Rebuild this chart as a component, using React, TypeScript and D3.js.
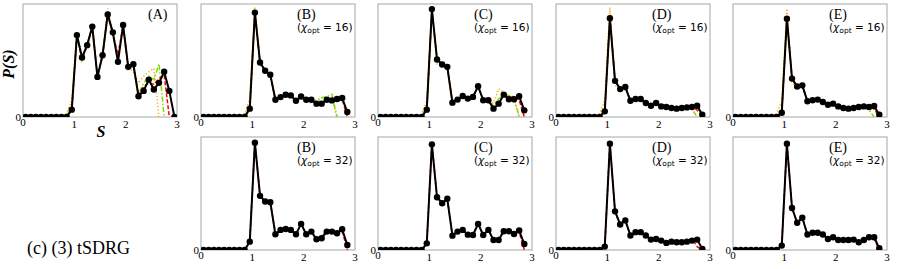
import * as d3 from 'd3';

// bin centres of the level-spacing histogram
const sBins = [0.05, 0.15, 0.25, 0.35, 0.45, 0.55, 0.65, 0.75, 0.85, 0.95, 1.05, 1.15, 1.25, 1.35, 1.45,
  1.55, 1.65, 1.75, 1.85, 1.95, 2.05, 2.15, 2.25, 2.35, 2.45, 2.55, 2.65, 2.75, 2.85, 2.95];
const xTicks = [0, 1, 2, 3];

// panel (A), exact
const aBlack = [0, 0, 0, 0, 0, 0, 0, 0, 0, 0.065, 0.725, 0.527, 0.636, 0.80, 0.355, 0.547, 0.908, 0.749, 0.488, 0.814, 0.444, 0.467, 0.183, 0.231, 0.331, 0.243, 0.302, 0.40, 0.231, 0];
const aOrange = [0, 0, 0, 0, 0, 0, 0, 0, 0.03, 0.15, 0.74, 0.53, 0.62, 0.82, 0.36, 0.55, 0.96, 0.74, 0.50, 0.80, 0.44, 0.40, 0.30, 0.36, 0.40, 0.43, 0];
const aGreen = [0, 0, 0, 0, 0, 0, 0, 0, 0.01, 0.09, 0.72, 0.50, 0.64, 0.81, 0.36, 0.54, 0.92, 0.72, 0.52, 0.81, 0.42, 0.45, 0.20, 0.30, 0.36, 0.33, 0.47, 0];
const aRed = [0, 0, 0, 0, 0, 0, 0, 0, 0, 0.07, 0.72, 0.52, 0.63, 0.80, 0.36, 0.55, 0.91, 0.74, 0.55, 0.81, 0.44, 0.46, 0.19, 0.27, 0.30, 0.29, 0.34, 0.37, 0];

// chi_opt = 16
const b16Black = [0, 0, 0, 0, 0, 0, 0, 0, 0, 0.074, 0.924, 0.482, 0.409, 0.374, 0.153, 0.176, 0.197, 0.191, 0.144, 0.182, 0.153, 0.153, 0.118, 0.118, 0.153, 0.147, 0.159, 0.168, 0.044];
const b16Orange = [0, 0, 0, 0, 0, 0, 0, 0, 0.03, 0.16, 0.97, 0.47, 0.40, 0.37, 0.16, 0.18, 0.19, 0.19, 0.15, 0.17, 0.15, 0.14, 0.15, 0.17, 0.17, 0.16, 0];
const b16Green = [0, 0, 0, 0, 0, 0, 0, 0, 0.01, 0.08, 0.93, 0.49, 0.41, 0.37, 0.15, 0.17, 0.20, 0.19, 0.14, 0.18, 0.15, 0.15, 0.13, 0.17, 0.18, 0.20, 0];
const b16Red = [0, 0, 0, 0, 0, 0, 0, 0, 0, 0.07, 0.93, 0.48, 0.41, 0.37, 0.15, 0.18, 0.20, 0.19, 0.14, 0.18, 0.15, 0.15, 0.12, 0.12, 0.15, 0.15, 0.16, 0.16, 0];

const c16Black = [0, 0, 0, 0, 0, 0, 0, 0, 0, 0.065, 0.955, 0.509, 0.464, 0.444, 0.127, 0.154, 0.186, 0.163, 0.178, 0.272, 0.148, 0.148, 0.074, 0.118, 0.198, 0.157, 0.157, 0.183, 0.059];
const c16Orange = [0, 0, 0, 0, 0, 0, 0, 0, 0.02, 0.14, 0.93, 0.47, 0.45, 0.43, 0.13, 0.16, 0.18, 0.17, 0.18, 0.26, 0.15, 0.15, 0.12, 0.25, 0.22, 0.18, 0.15, 0];
const c16Green = [0, 0, 0, 0, 0, 0, 0, 0, 0.01, 0.08, 0.95, 0.51, 0.47, 0.44, 0.13, 0.15, 0.18, 0.16, 0.18, 0.27, 0.15, 0.14, 0.10, 0.16, 0.20, 0.19, 0.18, 0];
const c16Red = [0, 0, 0, 0, 0, 0, 0, 0, 0, 0.06, 0.95, 0.51, 0.46, 0.44, 0.13, 0.15, 0.19, 0.16, 0.18, 0.27, 0.15, 0.15, 0.08, 0.12, 0.19, 0.17, 0.18, 0.15, 0];

const d16Black = [0, 0, 0, 0, 0, 0, 0, 0, 0, 0.05, 0.874, 0.32, 0.247, 0.265, 0.144, 0.159, 0.159, 0.124, 0.10, 0.124, 0.094, 0.088, 0.079, 0.074, 0.079, 0.085, 0.088, 0.10, 0.02];
const d16Orange = [0, 0, 0, 0, 0, 0, 0, 0, 0.03, 0.15, 0.97, 0.28, 0.25, 0.24, 0.15, 0.16, 0.16, 0.12, 0.11, 0.12, 0.09, 0.09, 0.08, 0.08, 0.08, 0.09, 0.09, 0.08, 0.02];
const d16Green = [0, 0, 0, 0, 0, 0, 0, 0, 0.01, 0.06, 0.88, 0.32, 0.25, 0.26, 0.14, 0.16, 0.16, 0.12, 0.10, 0.12, 0.09, 0.09, 0.08, 0.075, 0.09, 0.10, 0.07, 0];
const d16Red = [0, 0, 0, 0, 0, 0, 0, 0, 0, 0.05, 0.88, 0.32, 0.25, 0.265, 0.144, 0.159, 0.159, 0.124, 0.10, 0.124, 0.094, 0.088, 0.079, 0.074, 0.079, 0.085, 0.10, 0.06, 0.01];

const e16Black = [0, 0, 0, 0, 0, 0, 0, 0, 0, 0.038, 0.87, 0.34, 0.27, 0.28, 0.139, 0.148, 0.154, 0.133, 0.109, 0.118, 0.094, 0.08, 0.074, 0.08, 0.088, 0.094, 0.088, 0.097, 0.02];
const e16Orange = [0, 0, 0, 0, 0, 0, 0, 0, 0.03, 0.14, 0.96, 0.30, 0.27, 0.26, 0.15, 0.15, 0.15, 0.13, 0.11, 0.11, 0.09, 0.085, 0.08, 0.08, 0.09, 0.09, 0.08, 0.07, 0.01];
const e16Green = [0, 0, 0, 0, 0, 0, 0, 0, 0.01, 0.05, 0.88, 0.34, 0.27, 0.28, 0.14, 0.15, 0.15, 0.13, 0.11, 0.12, 0.09, 0.08, 0.075, 0.085, 0.10, 0.095, 0.06, 0];
const e16Red = [0, 0, 0, 0, 0, 0, 0, 0, 0, 0.04, 0.87, 0.34, 0.27, 0.28, 0.14, 0.15, 0.155, 0.133, 0.11, 0.118, 0.094, 0.08, 0.074, 0.08, 0.088, 0.094, 0.10, 0.07, 0.005];

// chi_opt = 32
const b32Black = [0, 0, 0, 0, 0, 0, 0, 0, 0, 0.074, 0.95, 0.479, 0.429, 0.423, 0.139, 0.178, 0.186, 0.178, 0.139, 0.231, 0.139, 0.163, 0.095, 0.104, 0.163, 0.163, 0.148, 0.183, 0.044];
const b32Red = [0, 0, 0, 0, 0, 0, 0, 0, 0, 0.074, 0.95, 0.479, 0.429, 0.423, 0.139, 0.178, 0.186, 0.178, 0.139, 0.231, 0.139, 0.163, 0.095, 0.11, 0.18, 0.17, 0.16, 0.17, 0];
const c32Black = [0, 0, 0, 0, 0, 0, 0, 0, 0, 0.059, 0.935, 0.467, 0.414, 0.453, 0.127, 0.163, 0.178, 0.136, 0.133, 0.231, 0.133, 0.178, 0.089, 0.089, 0.166, 0.166, 0.142, 0.172, 0.053];
const c32Red = [0, 0, 0, 0, 0, 0, 0, 0, 0, 0.059, 0.935, 0.467, 0.414, 0.453, 0.127, 0.163, 0.178, 0.136, 0.133, 0.231, 0.133, 0.178, 0.089, 0.10, 0.17, 0.17, 0.15, 0.16, 0];
const d32Black = [0, 0, 0, 0, 0, 0, 0, 0, 0, 0.03, 0.94, 0.342, 0.226, 0.262, 0.128, 0.158, 0.158, 0.128, 0.092, 0.098, 0.083, 0.063, 0.074, 0.068, 0.068, 0.074, 0.083, 0.092, 0.01];
const d32Red = [0, 0, 0, 0, 0, 0, 0, 0, 0, 0.03, 0.94, 0.342, 0.226, 0.262, 0.128, 0.158, 0.158, 0.128, 0.092, 0.098, 0.083, 0.063, 0.074, 0.068, 0.068, 0.074, 0.10, 0.03, 0];
const e32Black = [0, 0, 0, 0, 0, 0, 0, 0, 0, 0.039, 0.94, 0.372, 0.241, 0.286, 0.137, 0.152, 0.152, 0.137, 0.098, 0.113, 0.089, 0.089, 0.089, 0.092, 0.068, 0.089, 0.113, 0.113, 0.015];
const e32Red = [0, 0, 0, 0, 0, 0, 0, 0, 0, 0.039, 0.94, 0.372, 0.241, 0.286, 0.137, 0.152, 0.152, 0.137, 0.098, 0.113, 0.089, 0.089, 0.089, 0.092, 0.08, 0.095, 0.11, 0.10, 0];

const PW = 154;
const PH = 113;
const colLeft = [23, 201, 378, 556, 733];
const rowTop = [4, 137];

const styles = {
  orange: { stroke: '#ffa500', dash: '1.2,2.2' },
  green: { stroke: '#7fe000', dash: '5,2,1.5,2' },
  red: { stroke: '#ff0000', dash: '4,2' },
};

const panels = [
  { id: 'A', col: 0, row: 0, chi: null, black: aBlack, extra: [['orange', aOrange], ['green', aGreen], ['red', aRed]] },
  { id: 'B', col: 1, row: 0, chi: '16', black: b16Black, extra: [['orange', b16Orange], ['green', b16Green], ['red', b16Red]] },
  { id: 'C', col: 2, row: 0, chi: '16', black: c16Black, extra: [['orange', c16Orange], ['green', c16Green], ['red', c16Red]] },
  { id: 'D', col: 3, row: 0, chi: '16', black: d16Black, extra: [['orange', d16Orange], ['green', d16Green], ['red', d16Red]] },
  { id: 'E', col: 4, row: 0, chi: '16', black: e16Black, extra: [['orange', e16Orange], ['green', e16Green], ['red', e16Red]] },
  { id: 'B', col: 1, row: 1, chi: '32', black: b32Black, extra: [['red', b32Red]] },
  { id: 'C', col: 2, row: 1, chi: '32', black: c32Black, extra: [['red', c32Red]] },
  { id: 'D', col: 3, row: 1, chi: '32', black: d32Black, extra: [['red', d32Red]] },
  { id: 'E', col: 4, row: 1, chi: '32', black: e32Black, extra: [['red', e32Red]] },
];

const serif = '"Liberation Serif", "Times New Roman", serif';
const sans = '"DejaVu Sans", sans-serif';

function Panel({ p, idx }) {
  const x = d3.scaleLinear().domain([0, 3]).range([0, PW]);
  const y = d3.scaleLinear().domain([0, 1]).range([PH, 0]);
  const line = d3.line<number>().x((_, i) => x(sBins[i])).y((v) => y(v));
  const clipId = `clip-${idx}`;
  return (
    <g transform={`translate(${colLeft[p.col]},${rowTop[p.row]})`}>
      <defs>
        <clipPath id={clipId}>
          <rect x={0} y={0} width={PW} height={PH} />
        </clipPath>
      </defs>
      <rect x={0} y={0} width={PW} height={PH} fill="none" stroke="#a6a6a6" strokeWidth={1} />
      <g clipPath={`url(#${clipId})`}>
        {p.extra.map(([k, vals]) => (
          <path key={k} d={line(vals)!} fill="none" stroke={styles[k].stroke} strokeWidth={1.5}
            strokeDasharray={styles[k].dash} />
        ))}
        <path d={line(p.black)!} fill="none" stroke="#000" strokeWidth={2} strokeLinejoin="round" />
        {p.black.map((v, i) => (
          <circle key={i} cx={x(sBins[i])} cy={y(v)} r={3.2} fill="#000" />
        ))}
      </g>
      <text x={-2} y={PH + 4} textAnchor="end" fontFamily={serif} fontSize={11}>0</text>
      {xTicks.map((t) => (
        <text key={t} x={x(t)} y={PH + (t === 0 ? 9 : 11)} textAnchor="middle" fontFamily={serif} fontSize={11}>{t}</text>
      ))}
      {p.chi === null ? (
        <text x={125} y={15} fontFamily={serif} fontSize={14}>({p.id})</text>
      ) : (
        <>
          <text x={96} y={14.5} fontFamily={serif} fontSize={14}>({p.id})</text>
          <text x={96} y={27} fontFamily={sans} fontSize={10.5}>
            (<tspan fontStyle="italic">χ</tspan>
            <tspan fontSize={7.5} dy={2}>opt</tspan>
            <tspan dy={-2}> = {p.chi})</tspan>
          </text>
        </>
      )}
    </g>
  );
}

export default function App() {
  return (
    <svg width={899} height={269} style={{ position: 'absolute', left: 0, top: 0, background: '#fff' }}>
      {panels.map((p, i) => <Panel key={i} p={p} idx={i} />)}
      <text transform="translate(14,64) rotate(-90)" textAnchor="middle" fontFamily={serif} fontSize={16}
        fontWeight="bold" fontStyle="italic">P(S)</text>
      <text x={101} y={137} textAnchor="middle" fontFamily={serif} fontSize={16} fontWeight="bold" fontStyle="italic">S</text>
      <text x={27} y={254} fontFamily={serif} fontSize={18}>(c) (3) tSDRG</text>
    </svg>
  );
}
